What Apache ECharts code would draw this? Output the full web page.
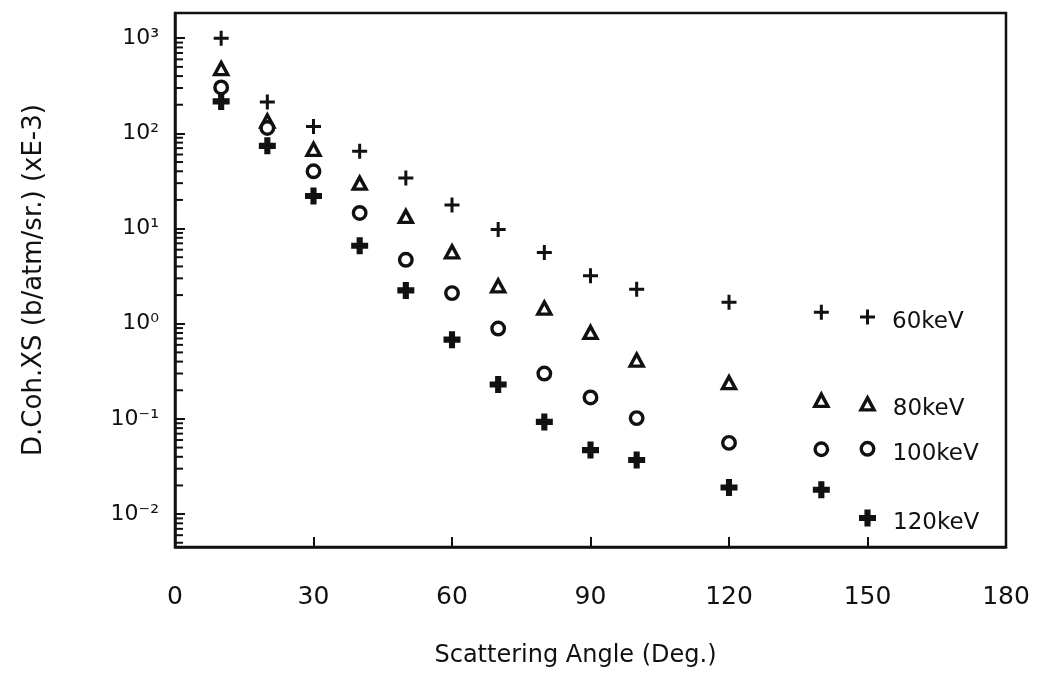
<!DOCTYPE html>
<html>
<head>
<meta charset="utf-8">
<title>Differential coherent scattering cross section</title>
<script src="https://cdn.jsdelivr.net/npm/echarts@6/dist/echarts.min.js"></script>
<style>
  html, body { margin: 0; padding: 0; background: #ffffff; }
  #chart { width: 1038px; height: 673px; }
</style>
</head>
<body>
<div id="chart"></div>
<script>
// Scattering angles (degrees) at which the cross sections were evaluated
const angles = [10, 20, 30, 40, 50, 60, 70, 80, 90, 100, 120, 140];

// Differential coherent cross sections, b/atm/sr (xE-3), one list per photon energy
const xs60keV  = [1000, 214, 118, 65, 34, 17.7, 9.8, 5.6, 3.2, 2.3, 1.68, 1.32];
const xs80keV  = [480, 135, 68, 30, 13.4, 5.7, 2.5, 1.46, 0.81, 0.415, 0.24, 0.157];
const xs100keV = [304, 114, 40, 14.6, 4.7, 2.1, 0.89, 0.30, 0.168, 0.102, 0.056, 0.048];
const xs120keV = [217, 74, 22, 6.6, 2.24, 0.68, 0.23, 0.093, 0.047, 0.037, 0.019, 0.018];

// Key entries: symbol placed at a fixed angle, labelled with the energy
const energyNames = ['60keV', '80keV', '100keV', '120keV'];
const keyAngle = 150;
const keyValues = [1.18, 0.144, 0.0485, 0.0091];

// Axis ticks
const xTickInterval = 30;
const yDecades = [-2, -1, 0, 1, 2, 3];
const yTickLabels = ['10\u207B\u00B2', '10\u207B\u00B9', '10\u2070', '10\u00B9', '10\u00B2', '10\u00B3'];
const minorMultipliers = [2, 3, 4, 5, 6, 7, 8, 9];
const minorDecades = [-3, -2, -1, 0, 1, 2];

const INK = '#111111';
const FONT = 'DejaVu Sans';
const Y_MIN = 0.00451;
const Y_MAX = 1841;

// Plus-shaped markers: thin for 60 keV, heavy for 120 keV
const PLUS_THIN = 'path://M4,0h2v4h4v2h-4v4h-2v-4h-4v-2h4z';
const PLUS_BOLD = 'path://M3.2,0h3.6v3.2h3.2v3.6h-3.2v3.2h-3.6v-3.2h-3.2v-3.6h3.2z';

const markerStyles = [
  { symbol: PLUS_THIN, symbolSize: 15, itemStyle: { color: INK, opacity: 1 } },
  { symbol: 'triangle', symbolSize: [13, 12], itemStyle: { color: '#ffffff', borderColor: INK, borderWidth: 3.4, opacity: 1 } },
  { symbol: 'circle', symbolSize: 12.5, itemStyle: { color: '#ffffff', borderColor: INK, borderWidth: 3.4, opacity: 1 } },
  { symbol: PLUS_BOLD, symbolSize: 17, itemStyle: { color: INK, opacity: 1 } }
];

const seriesValues = [xs60keV, xs80keV, xs100keV, xs120keV];

const scatterSeries = seriesValues.map(function (vals, i) {
  const pts = angles.map(function (a, j) { return [a, vals[j]]; });
  pts.push({
    value: [keyAngle, keyValues[i]],
    label: {
      show: true,
      position: 'right',
      distance: 17,
      offset: [0, 5],
      formatter: energyNames[i],
      color: INK,
      fontFamily: FONT,
      fontSize: 23
    }
  });
  return Object.assign({
    type: 'scatter',
    name: energyNames[i],
    data: pts
  }, markerStyles[i]);
});

// Logarithmic minor ticks (2..9 x 10^n) drawn inside the left axis
const minorTickValues = [];
minorDecades.forEach(function (d) {
  minorMultipliers.forEach(function (m) {
    const v = m * Math.pow(10, d);
    if (v > Y_MIN && v < Y_MAX) minorTickValues.push(v);
  });
});

const minorTickSeries = {
  type: 'scatter',
  name: 'minor ticks',
  clip: false,
  symbol: 'rect',
  symbolSize: [8, 2],
  symbolOffset: [4, 0],
  itemStyle: { color: INK, opacity: 1 },
  emphasis: { disabled: true },
  tooltip: { show: false },
  data: minorTickValues.map(function (v) { return [0, v]; })
};

const chart = echarts.init(document.getElementById('chart'), null, { renderer: 'canvas' });

chart.setOption({
  backgroundColor: '#ffffff',
  animation: false,
  grid: {
    left: 175, right: 32, top: 13, bottom: 125,
    show: true, borderColor: INK, borderWidth: 2.5
  },
  xAxis: {
    type: 'value',
    min: 0, max: 180, interval: xTickInterval,
    axisLine: { show: true, onZero: false, lineStyle: { color: INK, width: 2.5 } },
    axisTick: { show: true, inside: true, length: 10, lineStyle: { color: INK, width: 2 } },
    axisLabel: { margin: 38, color: INK, fontFamily: FONT, fontSize: 25 },
    splitLine: { show: false },
    name: 'Scattering Angle (Deg.)',
    nameLocation: 'middle',
    nameGap: 97,
    nameTextStyle: { color: INK, fontFamily: FONT, fontSize: 24, padding: [0, 30, 0, 0] }
  },
  yAxis: {
    type: 'log',
    logBase: 10,
    min: Y_MIN, max: Y_MAX,
    axisLine: { show: true, onZero: false, lineStyle: { color: INK, width: 2.5 } },
    axisTick: { show: true, inside: true, length: 10, lineStyle: { color: INK, width: 2 } },
    minorTick: { show: false },
    axisLabel: {
      margin: 16,
      color: INK,
      fontFamily: FONT,
      fontSize: 22,
      showMinLabel: false,
      showMaxLabel: false,
      formatter: function (value) {
        const e = Math.log10(value);
        const r = Math.round(e);
        if (Math.abs(e - r) > 1e-4) return '';
        const k = yDecades.indexOf(r);
        return k >= 0 ? yTickLabels[k] : '';
      }
    },
    splitLine: { show: false },
    name: 'D.Coh.XS (b/atm/sr.) (xE-3)',
    nameLocation: 'middle',
    nameRotate: 90,
    nameGap: 128,
    nameTextStyle: { color: INK, fontFamily: FONT, fontSize: 26 }
  },
  series: scatterSeries.concat([minorTickSeries])
});
</script>
</body>
</html>
